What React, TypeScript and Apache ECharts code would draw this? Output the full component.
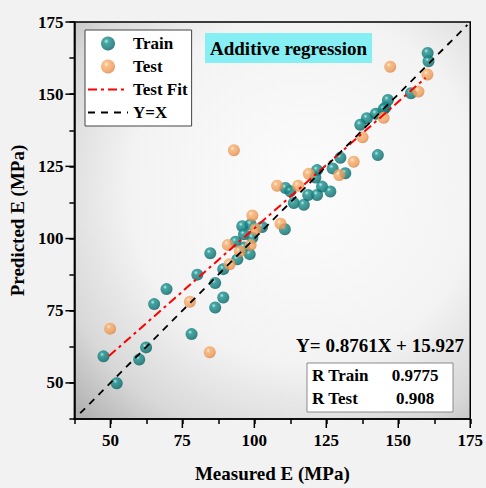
import React, { useEffect, useRef } from "react";
import * as echarts from "echarts";

const FONT = '"Liberation Serif", "Times New Roman", serif';

const trainX = [47.6, 52.2, 60.0, 62.4, 65.2, 69.5, 78.2, 80.2, 84.7, 86.4, 86.4, 89.2, 89.2, 93.5, 94.1, 95.8, 98.7, 96.4, 102.7, 99.3, 96.4, 98.4, 110.8, 112.5, 113.7, 117.2, 118.7, 121.8, 123.5, 126.4, 121.8, 121.2, 127.2, 129.9, 131.6, 110.6, 160.2, 160.5, 154.4, 146.4, 145.5, 142.2, 139.1, 136.8, 142.9, 144.9];
const trainY = [59.2, 49.9, 58.1, 62.3, 77.3, 82.5, 66.9, 87.5, 94.9, 84.6, 76.1, 79.6, 89.4, 98.9, 92.8, 104.3, 104.9, 101.5, 104.0, 100.3, 96.9, 94.6, 117.5, 116.4, 112.3, 111.7, 115.1, 115.1, 118.0, 116.3, 123.7, 121.1, 124.3, 128.0, 122.6, 103.2, 164.3, 161.4, 150.3, 148.0, 145.4, 143.2, 141.7, 139.4, 128.9, 144.8];

const testX = [49.9, 77.6, 84.5, 90.8, 91.4, 95.0, 92.9, 107.9, 115.2, 109.1, 99.3, 100.4, 98.7, 118.9, 129.5, 147.2, 160.1, 157.0, 144.9, 137.6, 134.5];
const testY = [68.8, 78.1, 60.6, 97.8, 91.1, 95.6, 130.6, 118.3, 118.3, 105.1, 108.0, 103.2, 97.8, 122.4, 122.0, 159.5, 156.8, 150.9, 141.8, 135.1, 126.6];

const fitX = [49.5, 159.5];
const fitY = [59.3, 155.7];
const idX = [39.5, 174];
const idY = [39.5, 174];

const axisMin = 37.5;
const axisMax = 175;
const majorTicks = [50, 75, 100, 125, 150, 175];
const tickLabels = ["50", "75", "100", "125", "150", "175"];

const seriesNames = ["Train", "Test", "Test Fit", "Y=X"];
const titleText = "Additive regression";
const equationText = "Y= 0.8761X + 15.927";
const tableLabels = ["R Train", "R Test"];
const tableValues = ["0.9775", "0.908"];

const sphere = (hi: string, mid: string, base: string, edge: string) => ({
  type: "radial",
  x: 0.38,
  y: 0.34,
  r: 0.7,
  colorStops: [
    { offset: 0, color: hi },
    { offset: 0.25, color: mid },
    { offset: 0.7, color: base },
    { offset: 1, color: edge },
  ],
});

export default function App() {
  const ref = useRef<HTMLDivElement>(null);
  useEffect(() => {
    if (!ref.current) return;
    const chart = echarts.init(ref.current, undefined, { renderer: "svg" });
    const fmt = (v: number) => {
      const i = majorTicks.indexOf(v);
      return i >= 0 ? tickLabels[i] : "";
    };
    const axisCommon = {
      type: "value",
      min: axisMin,
      max: axisMax,
      interval: 12.5,
      nameLocation: "middle",
      nameTextStyle: { fontSize: 19, fontWeight: "bold", color: "#000", fontFamily: FONT },
      axisLine: { show: true, onZero: false, lineStyle: { color: "#000", width: 1.5 } },
      axisTick: { show: true, inside: false, length: 5, lineStyle: { color: "#000", width: 1.5 } },
      splitLine: { show: false },
    };
    const labelStyle = { fontSize: 17, fontWeight: "bold", color: "#000", fontFamily: FONT, formatter: fmt };
    const legendData = seriesNames.map((n, i) =>
      i < 2 ? n : { name: n, itemStyle: { opacity: 0 } }
    );
    const option: any = {
      animation: false,
      backgroundColor: "#f2f2f2",
      textStyle: { fontFamily: FONT },
      title: {
        text: titleText,
        left: 205,
        top: 33,
        backgroundColor: "#86eff3",
        padding: [6, 5, 5, 5],
        textStyle: { fontSize: 19, fontWeight: "bold", color: "#000", fontFamily: FONT },
      },
      legend: {
        orient: "vertical",
        left: 85,
        top: 30,
        itemWidth: 40,
        itemHeight: 14,
        itemGap: 6,
        padding: [5, 4, 5, 2],
        backgroundColor: "#fff",
        borderColor: "#444",
        borderWidth: 1,
        textStyle: { fontSize: 17, fontWeight: "bold", color: "#000", fontFamily: FONT },
        data: legendData,
      },
      grid: {
        left: 74,
        right: 14,
        top: 22,
        bottom: 65,
        show: true,
        borderColor: "#000",
        borderWidth: 1.5,
        backgroundColor: {
          type: "radial",
          x: 0.58,
          y: 0.42,
          r: 0.8,
          colorStops: [
            { offset: 0, color: "#fcfcfc" },
            { offset: 0.55, color: "#f3f3f3" },
            { offset: 0.82, color: "#d8d8d8" },
            { offset: 1, color: "#b2b2b2" },
          ],
        },
      },
      xAxis: { ...axisCommon, name: "Measured E (MPa)", nameGap: 45, axisLabel: { ...labelStyle, margin: 13 } },
      yAxis: { ...axisCommon, name: "Predicted E (MPa)", nameGap: 44, axisLabel: { ...labelStyle, margin: 11 } },
      graphic: [
        {
          type: "text",
          x: 380,
          y: 345,
          style: { text: equationText, font: `bold 19px ${FONT}`, fill: "#000", align: "center", verticalAlign: "middle" },
        },
        {
          type: "rect",
          shape: { x: 307, y: 363, width: 146, height: 49 },
          style: { fill: "#fff", stroke: "#8a8a8a", lineWidth: 1 },
        },
        ...tableLabels.map((t, i) => ({
          type: "text",
          x: 312,
          y: 375 + i * 23,
          style: { text: t, font: `bold 17px ${FONT}`, fill: "#000", align: "left", verticalAlign: "middle" },
        })),
        ...tableValues.map((t, i) => ({
          type: "text",
          x: 415,
          y: 375 + i * 23,
          style: { text: t, font: `bold 17px ${FONT}`, fill: "#000", align: "center", verticalAlign: "middle" },
        })),
      ],
      series: [
        {
          name: "Train",
          type: "scatter",
          symbolSize: 12,
          itemStyle: { color: sphere("#a8ece8", "#1a908e", "#0c7675", "#075659") },
          data: trainX.map((x, i) => [x, trainY[i]]),
        },
        {
          name: "Test",
          type: "scatter",
          symbolSize: 12,
          itemStyle: { color: sphere("#ffe8cc", "#f6ae6e", "#ef9b56", "#d68042") },
          data: testX.map((x, i) => [x, testY[i]]),
        },
        {
          name: "Test Fit",
          type: "line",
          symbol: "none",
          lineStyle: { color: "#ff0000", width: 2, type: [9, 4, 3, 4] },
          itemStyle: { color: "#ff0000" },
          data: fitX.map((x, i) => [x, fitY[i]]),
        },
        {
          name: "Y=X",
          type: "line",
          symbol: "none",
          lineStyle: { color: "#000", width: 1.8, type: [7, 6] },
          itemStyle: { color: "#000" },
          data: idX.map((x, i) => [x, idY[i]]),
        },
        {
          type: "custom",
          silent: true,
          clip: false,
          data: majorTicks.map((v) => [v, axisMin]),
          renderItem: (params: any, api: any) => {
            const p = api.coord([api.value(0), axisMin]);
            return {
              type: "line",
              shape: { x1: p[0], y1: p[1], x2: p[0], y2: p[1] + 9 },
              style: { stroke: "#000", lineWidth: 1.5 },
            };
          },
        },
        {
          type: "custom",
          silent: true,
          clip: false,
          data: majorTicks.map((v) => [axisMin, v]),
          renderItem: (params: any, api: any) => {
            const p = api.coord([axisMin, api.value(1)]);
            return {
              type: "line",
              shape: { x1: p[0] - 9, y1: p[1], x2: p[0], y2: p[1] },
              style: { stroke: "#000", lineWidth: 1.5 },
            };
          },
        },
      ],
    };
    chart.setOption(option);
    return () => chart.dispose();
  }, []);
  return (
    <div
      ref={ref}
      style={{ position: "fixed", left: 0, top: 0, width: 486, height: 488, background: "#f2f2f2" }}
    />
  );
}
